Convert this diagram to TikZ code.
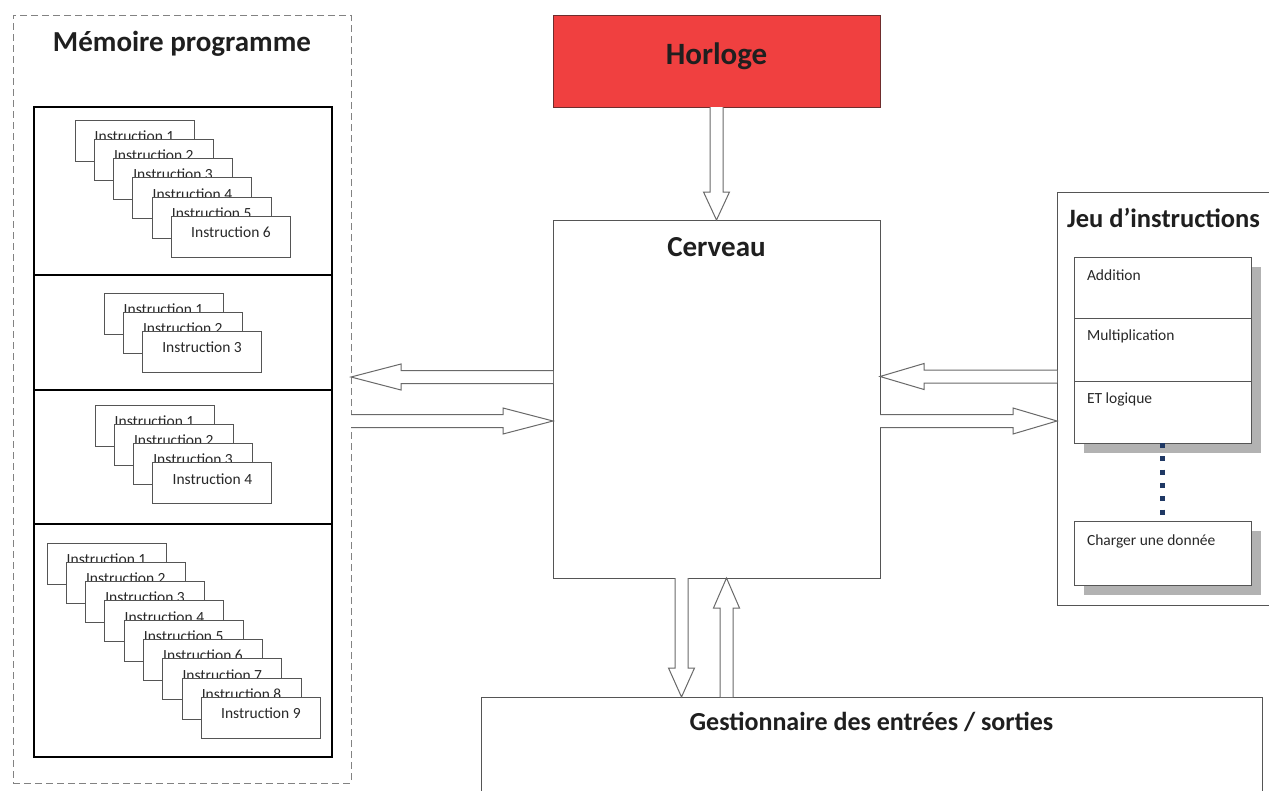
\documentclass[tikz,border=0pt]{standalone}
\usepackage{fontspec}
\setmainfont{Carlito}
\usetikzlibrary{calc,shadows}
\definecolor{horred}{RGB}{240,64,64}
\definecolor{hordark}{RGB}{110,45,45}
\definecolor{linegray}{RGB}{85,85,85}
\definecolor{arrgray}{RGB}{105,105,105}
\definecolor{dashgray}{RGB}{130,130,130}
\definecolor{dotblue}{RGB}{31,56,100}
\definecolor{txt}{RGB}{40,40,40}
\newcommand\rbox[6]{\node[#6,anchor=north west,minimum width={#4-#2},minimum height={#5-#3}] (#1) at (#2,#3) {};}
\newcommand\blockarrow[3]{%
  \coordinate (bah) at ($(#2)!#3!(#1)$);
  \draw[blockarr] ($(#1)!6.5pt!90:(#2)$) -- ($(bah)!6.5pt!90:(#2)$) -- ($(bah)!13pt!90:(#2)$) -- (#2) -- ($(bah)!13pt!-90:(#2)$) -- ($(bah)!6.5pt!-90:(#2)$) -- ($(#1)!6.5pt!-90:(#2)$);}
\newcommand\cardstack[4]{%
  \foreach \i in {1,...,#4}{%
    \pgfmathsetmacro\cx{#2+(\i-1)*19.3}%
    \pgfmathsetmacro\cy{#3+(\i-1)*19.3}%
    \node[card] (#1-\i) at (\cx,\cy) {};
    \node[cardtxt] (#1-\i-t) at ([yshift=-16pt]#1-\i.north) {Instruction \i};
  }}
\tikzset{
  base/.style={inner sep=0pt,outer sep=0pt},
  plain/.style={base,draw=linegray,line width=0.9pt,fill=white},
  thickbox/.style={base,draw=black,line width=2.8pt},
  dashbox/.style={base,draw=dashgray,line width=1pt,dash pattern=on 7pt off 4pt},
  redbox/.style={base,draw=hordark,line width=1pt,fill=horred},
  card/.style={base,draw=linegray,line width=0.9pt,fill=white,anchor=north west,minimum width=119pt,minimum height=41pt},
  cardtxt/.style={base,font=\fontsize{15.5}{18}\selectfont,text=txt},
  itemtxt/.style={base,font=\fontsize{15.5}{18}\selectfont,text=txt,anchor=west},
  title/.style={base,font=\fontsize{29}{34}\selectfont\bfseries,text=black!88},
  shadowbox/.style={plain,drop shadow={shadow xshift=10pt,shadow yshift=-10pt,opacity=1,fill=black!30}},
  blockarr/.style={draw=arrgray,line width=1pt,fill=white,line join=miter},
  dotline/.style={draw=dotblue,line width=5pt,dash pattern=on 5pt off 8.3pt}
}
\begin{document}
\begin{tikzpicture}[x=1pt,y=-1pt]
\useasboundingbox (0,0) rectangle (1269,790);
\clip (0,0) rectangle (1269,790);
\fill[white] (0,0) rectangle (1269,790);
% memory
\rbox{mem}{13}{15}{351}{783}{dashbox}
\node[title] (memt) at (182,44) {Mémoire programme};
\rbox{b1}{34}{107}{332}{275}{thickbox}
\rbox{b2}{34}{275}{332}{390}{thickbox}
\rbox{b3}{34}{390}{332}{524}{thickbox}
\rbox{b4}{34}{524}{332}{757}{thickbox}
\cardstack{sa}{75}{120}{6}
\cardstack{sb}{104}{293}{3}
\cardstack{sc}{95}{405}{4}
\cardstack{sd}{47}{543}{9}
% horloge & cerveau
\rbox{hor}{553}{15}{880}{107}{redbox}
\node[title,font=\fontsize{31}{36}\selectfont\bfseries] (hort) at ([yshift=5pt]hor.center) {Horloge};
\rbox{cer}{553}{220}{880}{578}{plain}
\node[title] (cert) at ([yshift=-27pt]cer.north) {Cerveau};
% jeu d'instructions
\rbox{jeu}{1057}{192}{1300}{605}{plain}
\node[title,anchor=west,font=\fontsize{26.5}{31}\selectfont\bfseries] (jeut) at (1067,218) {Jeu d’instructions};
\rbox{lst}{1074}{257}{1251}{443}{shadowbox}
\rbox{add}{1074}{257}{1251}{318}{plain}
\rbox{mul}{1074}{318}{1251}{381}{plain}
\rbox{etl}{1074}{381}{1251}{443}{plain}
\node[itemtxt] (addt) at ([xshift=13pt,yshift=-18pt]add.north west) {Addition};
\node[itemtxt] (mult) at ([xshift=13pt,yshift=-18pt]mul.north west) {Multiplication};
\node[itemtxt] (etlt) at ([xshift=13pt,yshift=-18pt]etl.north west) {ET logique};
\rbox{chg}{1074}{521}{1251}{585}{shadowbox}
\node[itemtxt] (chgt) at ([xshift=13pt,yshift=-20pt]chg.north west) {Charger une donnée};
\draw[dotline] (lst.south) -- (chg.north);
% gestionnaire
\rbox{gest}{481}{697}{1262}{840}{plain}
\node[title,font=\fontsize{26}{31}\selectfont\bfseries] (gestt) at ([yshift=-25pt]gest.north) {Gestionnaire des entrées / sorties};
% arrows
\blockarrow{hor.south}{cer.north}{28pt}
\coordinate (ml1) at ([yshift=22pt]cer.west);
\coordinate (ml2) at ([yshift=22pt]mem.east);
\coordinate (mr1) at ([yshift=-22pt]mem.east);
\coordinate (mr2) at ([yshift=-22pt]cer.west);
\blockarrow{ml1}{ml2}{50pt}
\blockarrow{mr1}{mr2}{50pt}
\coordinate (jl1) at ([yshift=22pt]jeu.west);
\coordinate (jl2) at (jl1 -| cer.east);
\coordinate (jr1) at ([yshift=-22pt]cer.east);
\coordinate (jr2) at (jr1 -| jeu.west);
\blockarrow{jl1}{jl2}{44pt}
\blockarrow{jr1}{jr2}{44pt}
\coordinate (d1) at ([xshift=-35pt]cer.south);
\coordinate (d2) at (d1 |- gest.north);
\coordinate (u1) at ([xshift=10pt]cer.south);
\coordinate (u2) at (u1 |- gest.north);
\blockarrow{d1}{d2}{29pt}
\blockarrow{u2}{u1}{30pt}
\end{tikzpicture}
\end{document}
